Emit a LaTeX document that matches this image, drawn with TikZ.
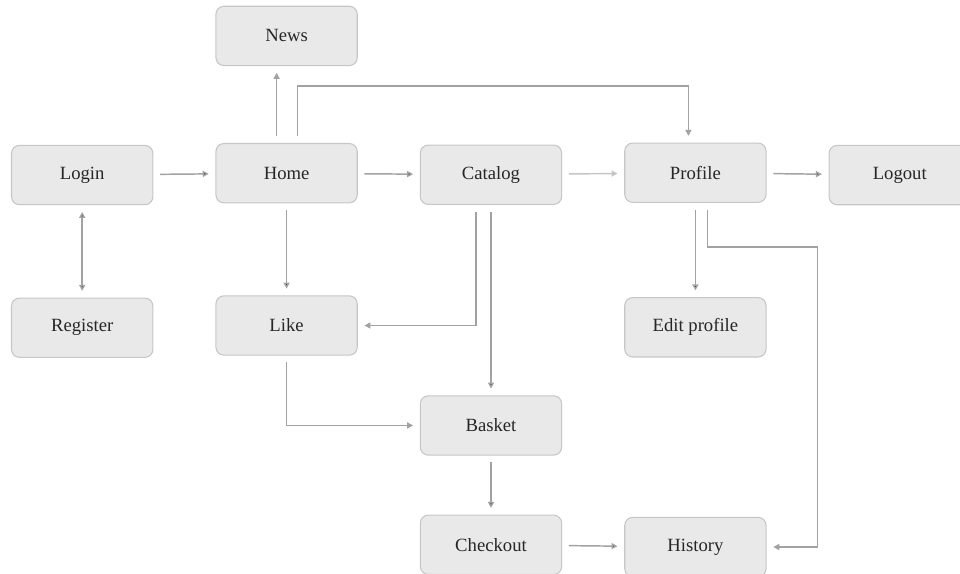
\documentclass[tikz,border=0pt]{standalone}
\usepackage{fontspec}
\setmainfont{Liberation Serif}
\usepackage{tikz}
\usetikzlibrary{arrows.meta, matrix}

\definecolor{boxfill}{HTML}{E9E9E9}
\definecolor{boxline}{HTML}{C6C6C6}
\definecolor{flowline}{HTML}{A2A2A2}
\definecolor{textgray}{HTML}{262626}

\tikzset{
  box/.style={draw=boxline, fill=boxfill, rounded corners=6pt, line width=0.8pt,
    minimum width=106pt, minimum height=44.5pt, inner sep=2pt,
    text=textgray, font=\fontsize{14}{16}\selectfont},
  flow/.style={draw=flowline, line width=1.1pt,
    -{Triangle[length=4.5pt,width=4.5pt]}, shorten <=5pt, shorten >=5pt},
  faint/.style={draw=boxline}
}

\begin{document}
\begin{tikzpicture}
  \useasboundingbox (0,0) rectangle (720pt,-430.5pt);
  \matrix (m) [matrix of nodes, inner sep=0pt, nodes={box},
               row sep=28pt, column sep=46.5pt] at (368.25pt,-218.6pt)
  {
                   & |(news)| News  &                   &                       &                  \\[29.3pt]
    |(login)| Login & |(home)| Home & |(catalog)| Catalog & |(profile)| Profile  & |(logout)| Logout \\[39.5pt]
    |(register)| Register & |(like)| Like &           & |(editprofile)| Edit profile &            \\
                   &                & |(basket)| Basket  &                       &                  \\[16.2pt]
                   &                & |(checkout)| Checkout & |(history)| History &                \\};
  \path[flow]
    (login) edge (home)
    (home) edge (catalog)
            edge (like)
    (catalog) edge[faint] (profile)
              edge (basket)
    (profile) edge (logout)
              edge (editprofile)
    (basket) edge (checkout)
    (checkout) edge (history);
  \path[flow, {Triangle[length=4.5pt,width=4.5pt]}-{Triangle[length=4.5pt,width=4.5pt]}]
    (login) edge (register);
  % bent connectors
  \draw[flow] ([xshift=-7.5pt]home.north) -- ([xshift=-7.5pt]home.north |- news.south);
  \draw[flow] ([xshift=8.25pt]home.north) -- ++(0,42.75pt) -| ([xshift=-5.25pt]profile.north);
  \draw[flow] ([xshift=-11.25pt]catalog.south) |- (like.east);
  \draw[flow] (like.south) |- (basket.west);
  \draw[flow] ([xshift=9pt]profile.south) -- ++(0,-33pt) -| ([xshift=38.25pt]history.east) -- (history.east);
\end{tikzpicture}
\end{document}
